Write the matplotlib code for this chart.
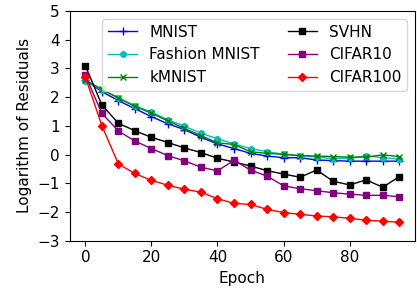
import matplotlib
matplotlib.use('Agg')
import matplotlib.pyplot as plt
import numpy as np

epochs = np.arange(0, 100, 5)

mnist = [2.60, 2.19, 1.88, 1.60, 1.32, 1.07, 0.87, 0.60, 0.37, 0.21, 0.04, -0.05, -0.11,
         -0.11, -0.19, -0.21, -0.23, -0.23, -0.23, -0.23]
fashion = [2.55, 2.25, 1.98, 1.70, 1.48, 1.21, 0.99, 0.74, 0.55, 0.37, 0.21, 0.10, 0.01,
           -0.04, -0.09, -0.14, -0.13, -0.04, -0.11, -0.16]
kmnist = [2.60, 2.27, 1.97, 1.68, 1.44, 1.17, 0.91, 0.66, 0.41, 0.35, 0.10, 0.04, 0.01,
          -0.04, -0.05, -0.07, -0.09, -0.09, -0.01, -0.07]
svhn = [3.10, 1.73, 1.09, 0.83, 0.60, 0.42, 0.23, 0.07, -0.13, -0.26, -0.40, -0.56, -0.68,
        -0.79, -0.54, -0.93, -1.06, -0.88, -1.14, -0.77]
cifar10 = [2.76, 1.44, 0.82, 0.47, 0.21, -0.04, -0.22, -0.44, -0.57, -0.20, -0.54, -0.75, -1.09,
           -1.19, -1.26, -1.33, -1.38, -1.42, -1.42, -1.47]
cifar100 = [2.70, 1.01, -0.33, -0.66, -0.90, -1.07, -1.21, -1.31, -1.54, -1.70, -1.74, -1.91, -2.02,
            -2.08, -2.14, -2.17, -2.22, -2.29, -2.32, -2.36]

fs = 11
fig = plt.figure(figsize=(4.17, 2.91), dpi=100)
ax = fig.add_axes([0.167, 0.173, 0.828, 0.789])

ax.plot(epochs, mnist, color='b', marker='+', markersize=6, linewidth=1, label='MNIST')
ax.plot(epochs, fashion, color='c', marker='o', markersize=4, linewidth=1, label='Fashion MNIST')
ax.plot(epochs, kmnist, color='g', marker='x', markersize=4, linewidth=1, label='kMNIST')
ax.plot(epochs, svhn, color='k', marker='s', markersize=4, linewidth=1, label='SVHN')
ax.plot(epochs, cifar10, color='purple', marker='s', markersize=4, linewidth=1, label='CIFAR10')
ax.plot(epochs, cifar100, color='r', marker='D', markersize=4, linewidth=1, label='CIFAR100')

ax.set_ylim(-3, 5)
ax.set_yticks(range(-3, 6))
ax.set_xticks([0, 20, 40, 60, 80])
ax.tick_params(labelsize=fs)
ax.set_xlabel('Epoch', fontsize=fs)
ax.set_ylabel('Logarithm of Residuals', fontsize=fs)
ax.legend(ncol=2, loc='upper right', fontsize=fs, handlelength=1.9, columnspacing=1.8)

fig.savefig('out.png', dpi=100)
